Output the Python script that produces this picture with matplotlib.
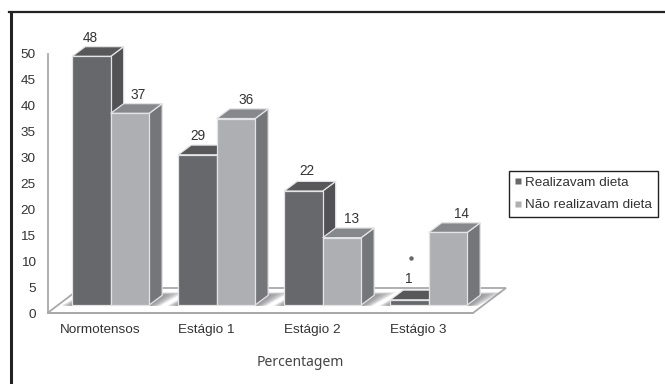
import numpy as np
import matplotlib
matplotlib.use("Agg")
import matplotlib.pyplot as plt
from matplotlib.lines import Line2D
from matplotlib.patches import Polygon

#data
categories = ["Normotensos", "Estágio 1", "Estágio 2", "Estágio 3"]
dieta = [48, 29, 22, 1]
sem_dieta = [37, 36, 13, 14]
series_names = ["Realizavam dieta", "Não realizavam dieta"]
y_ticks = [0, 5, 10, 15, 20, 25, 30, 35, 40, 45, 50]

#colours: front, top, side
dark = ["#67686b", "#58585a", "#525254"]
light = ["#aeafb2", "#87888b", "#75767a"]
text_col = "#333333"

W, H = 665, 384
fig = plt.figure(figsize=(W / 100, H / 100), dpi=100)
plt.rcParams["font.family"] = ["Liberation Sans", "DejaVu Sans"]

#axes box in pixels
left, right, bottom, top = 47.5, 473, 313, 54
ax = fig.add_axes([left / W, 1 - bottom / H, (right - left) / W, (bottom - top) / H])

#one category step is 106 px, first group is centred at x=110.7 px
px_x = 1 / 106
ax.set_xlim((left - 110.7) * px_x, (right - 110.7) * px_x)
ax.set_ylim(0, 50)
px_y = 50 / (bottom - top)

bar_w = 38.5 * px_x
dx, dy = 13 * px_x, 9.7 * px_y
base = 8 * px_y


def box(x, value, cols):
    y1 = base + value
    front = [(x, base), (x + bar_w, base), (x + bar_w, y1), (x, y1)]
    roof = [(x, y1), (x + bar_w, y1), (x + bar_w + dx, y1 + dy), (x + dx, y1 + dy)]
    side = [(x + bar_w, base), (x + bar_w + dx, base + dy), (x + bar_w + dx, y1 + dy), (x + bar_w, y1)]
    for pts, c in zip([side, roof, front], [cols[2], cols[1], cols[0]]):
        ax.add_patch(Polygon(pts, closed=True, fc=c, ec="#e4e4e6", lw=0.9, clip_on=False, zorder=3))


#floor
depth_x = 33 * px_x
depth_y = 25 * px_y
x0, x1 = ax.get_xlim()
floor = [(x0, 0), (x1, 0), (x1 + depth_x, depth_y), (x0 + depth_x, depth_y)]
ax.add_patch(Polygon(floor, closed=True, fc="white", ec="#a9a9ab", lw=1.3, clip_on=False, zorder=1))

#soft shadow round the foot of each group
for i in range(len(categories)):
    xa = i - bar_w
    xb = i + bar_w
    for k in np.linspace(1, 0.1, 8):
        grow = 22 * k * px_x
        pts = [(xa - 0.5 * grow, base - 0.8 * px_y), (xb + grow * 0.5, base - 0.8 * px_y),
               (xb + dx + grow, base + dy + 3 * k * px_y), (xa + dx, base + dy + 3 * k * px_y)]
        ax.add_patch(Polygon(pts, closed=True, fc="#77777a", ec="none", alpha=0.15, clip_on=False, zorder=2))

#bars
for i in range(len(categories)):
    box(i - bar_w, dieta[i], dark)
    box(i, sem_dieta[i], light)

#value labels sit a little off the bars
off_dark = [-1, 0, 3.7, -0.5]
off_light = [7.7, 10, 10, 14]
rise_dark = [18.5, 18.5, 20, 21]
rise_light = [18.5, 18.5, 18.5, 18.5]
for i in range(len(categories)):
    ax.text(i - bar_w / 2 + off_dark[i] * px_x, base + dieta[i] + rise_dark[i] * px_y, str(dieta[i]),
            ha="center", va="center", fontsize=9.8, color=text_col, zorder=5)
    ax.text(i + bar_w / 2 + off_light[i] * px_x, base + sem_dieta[i] + rise_light[i] * px_y, str(sem_dieta[i]),
            ha="center", va="center", fontsize=9.8, color=text_col, zorder=5)

#stray asterisk over the last group
ax.plot([3 - bar_w / 2 + 1.5 * px_x], [base + dieta[3] + 42 * px_y], marker="o", ms=3.2, mfc="#666668",
        mec="none", clip_on=False, zorder=5)

#axes
ax.set_facecolor("none")
for s in ["top", "right"]:
    ax.spines[s].set_visible(False)
for s in ["left", "bottom"]:
    ax.spines[s].set_color("#a9a9ab")
    ax.spines[s].set_linewidth(1.3)
    ax.spines[s].set_zorder(4)
ax.set_yticks(y_ticks)
ax.set_xticks(np.arange(len(categories)) - 0.1)
ax.set_xticklabels(categories)
ax.tick_params(axis="both", length=0, labelsize=9.7, labelcolor=text_col)
ax.tick_params(axis="y", pad=8.6)
ax.tick_params(axis="x", pad=8)

#legend
handles = [Line2D([], [], ls="none", marker="s", ms=3.8, mfc=dark[0], mec="none"),
           Line2D([], [], ls="none", marker="s", ms=3.8, mfc=light[0], mec="none")]
leg = fig.legend(handles, series_names, loc="upper left", bbox_to_anchor=(509 / W, 1 - 170.7 / H),
                 borderaxespad=0, fancybox=False, framealpha=1, edgecolor="#222222", fontsize=9.7,
                 labelcolor=text_col, handlelength=0.5, handletextpad=0.25, labelspacing=0.72,
                 borderpad=0.45)
leg.get_frame().set_linewidth(1.0)

#axis title
fig.text(300.5 / W, 1 - 363 / H, "Percentagem", family="Noto Sans", fontsize=10, color="#444444",
         ha="center", va="center")

#heavy frame on the top and left
fig.add_artist(Line2D([10.5 / W, 10.5 / W], [0, 1 - 11.5 / H], color="#222222", lw=2.2))
fig.add_artist(Line2D([9.4 / W, 1], [1 - 11.5 / H, 1 - 11.5 / H], color="#222222", lw=1.6))

fig.savefig("out.png", dpi=100)
